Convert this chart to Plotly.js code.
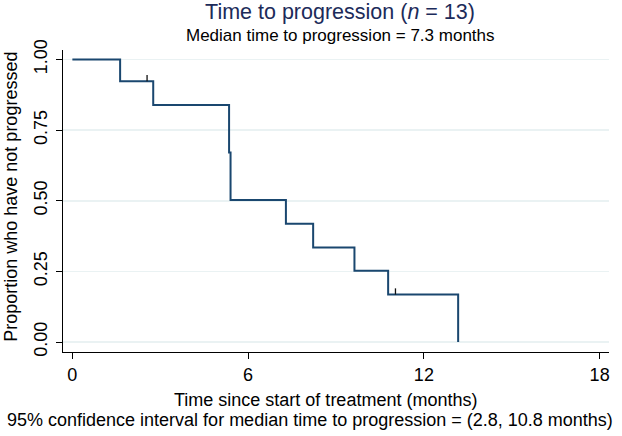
<!DOCTYPE html>
<html>
<head>
<meta charset="utf-8">
<script src="https://cdn.plot.ly/plotly-3.0.1.min.js"></script>
<style>html,body{margin:0;padding:0;background:#fff;}#chart{width:622px;height:436px;}</style>
</head>
<body>
<div id="chart"></div>
<script>
// Kaplan-Meier step points (time in months, proportion not progressed)
const kmTimes    = [0, 1.63, 2.76, 5.35, 5.40, 7.29, 8.22, 9.63, 10.78, 13.17];
const kmSurvival = [1.0, 0.923, 0.839, 0.671, 0.503, 0.419, 0.335, 0.252, 0.168, 0.0];
// Censored observations
const censorTimes    = [2.55, 11.03];
const censorSurvival = [0.923, 0.168];
const xTicks = [0, 6, 12, 18];
const yTicks = [0, 0.25, 0.5, 0.75, 1];
const yTickLabels = ['0.00', '0.25', '0.50', '0.75', '1.00'];

const navy = '#1a476f';
const font = 'Liberation Sans, Arial, sans-serif';
const narrow = 'Liberation Sans Narrow, Arial Narrow, Liberation Sans, sans-serif';

const traces = [
  {
    x: kmTimes, y: kmSurvival, type: 'scatter', mode: 'lines',
    line: {shape: 'hv', color: navy, width: 2}, hoverinfo: 'skip'
  },
  {
    x: censorTimes, y: censorSurvival, type: 'scatter', mode: 'markers',
    marker: {size: 0.1, color: navy, opacity: 0},
    error_y: {type: 'data', symmetric: false, array: censorTimes.map(() => 0.022),
              arrayminus: censorTimes.map(() => 0), width: 0, thickness: 1.3, color: '#111'},
    hoverinfo: 'skip'
  }
];

const layout = {
  width: 622, height: 436,
  margin: {l: 63, r: 13, t: 50, b: 83.5},
  paper_bgcolor: '#fff', plot_bgcolor: '#fff',
  showlegend: false,
  font: {family: font, color: '#000', size: 15},
  xaxis: {
    range: [-0.32, 18.32], tickvals: xTicks, ticktext: xTicks.map(String),
    showgrid: false, zeroline: false, showline: true, linecolor: '#000', linewidth: 1,
    ticks: 'outside', ticklen: 6, tickcolor: '#000', tickwidth: 1,
    tickfont: {size: 18, family: font}, fixedrange: true
  },
  yaxis: {
    range: [-0.0353, 1.0336], tickvals: yTicks, ticktext: yTickLabels, tickangle: -90,
    showgrid: true, gridcolor: '#eaf2f3', gridwidth: 1.5, zeroline: false,
    showline: true, linecolor: '#000', linewidth: 1,
    ticks: 'outside', ticklen: 6, tickcolor: '#000', tickwidth: 1,
    ticklabelstandoff: 2,
    tickfont: {size: 18, family: narrow}, fixedrange: true
  },
  title: {
    text: 'Time to progression (<i>n</i> = 13)', font: {size: 21.5, color: '#1c2b5a', family: font},
    xref: 'paper', x: (340 - 63) / 546, xanchor: 'center', yref: 'container', y: 1 - 11/436, yanchor: 'middle'
  },
  annotations: [
    {text: 'Median time to progression = 7.3 months', xref: 'paper', yref: 'paper',
     x: (340 - 63) / 546, y: (352.5 - 35) / 302.5, xanchor: 'center', yanchor: 'middle', showarrow: false,
     font: {size: 17, color: '#000', family: font}},
    {text: 'Time since start of treatment (months)', xref: 'paper', yref: 'paper',
     x: (325 - 63) / 546, y: (352.5 - 401) / 302.5, xanchor: 'center', yanchor: 'middle', showarrow: false,
     font: {size: 18, color: '#000', family: font}},
    {text: '95% confidence interval for median time to progression = (2.8, 10.8 months)', xref: 'paper', yref: 'paper',
     x: (310 - 63) / 546, y: (352.5 - 421) / 302.5, xanchor: 'center', yanchor: 'middle', showarrow: false,
     font: {size: 18, color: '#000', family: font}},
    {text: 'Proportion who have not progressed', xref: 'paper', yref: 'paper',
     x: (11 - 63) / 546, y: (352.5 - 197) / 302.5, xanchor: 'center', yanchor: 'middle', showarrow: false,
     textangle: -90, font: {size: 18, color: '#000', family: font}}
  ]
};

Plotly.newPlot('chart', traces, layout, {displayModeBar: false, staticPlot: true});
</script>
</body>
</html>
